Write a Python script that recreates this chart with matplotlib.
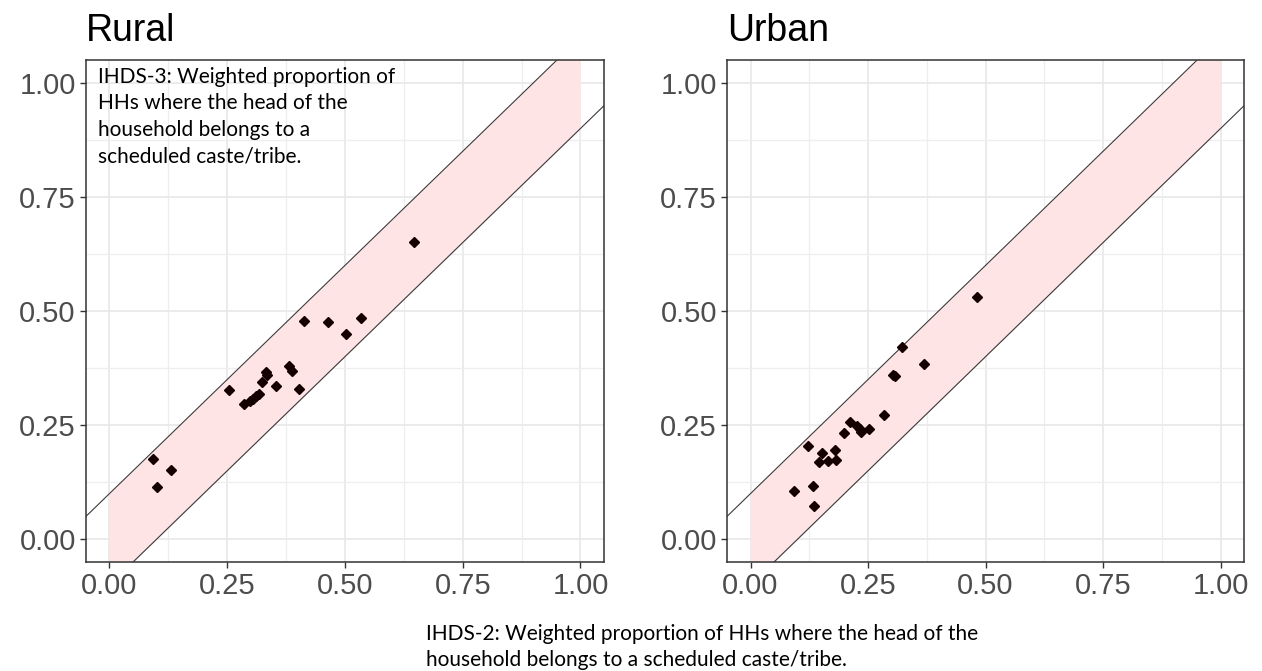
import numpy as np
import matplotlib
matplotlib.use('Agg')
import matplotlib.pyplot as plt

# 数据：IHDS-2 (x) 与 IHDS-3 (y) 的加权比例
rural_x = [0.093, 0.101, 0.131, 0.254, 0.285, 0.298, 0.304, 0.311, 0.318, 0.323, 0.332,
           0.335, 0.354, 0.381, 0.388, 0.403, 0.413, 0.465, 0.503, 0.533, 0.646]
rural_y = [0.175, 0.114, 0.151, 0.327, 0.297, 0.303, 0.308, 0.314, 0.319, 0.345, 0.367,
           0.359, 0.336, 0.379, 0.368, 0.330, 0.479, 0.476, 0.449, 0.485, 0.651]
urban_x = [0.093, 0.132, 0.136, 0.123, 0.145, 0.153, 0.164, 0.179, 0.182, 0.199, 0.211,
           0.227, 0.232, 0.235, 0.252, 0.284, 0.303, 0.308, 0.322, 0.369, 0.481]
urban_y = [0.105, 0.117, 0.072, 0.205, 0.169, 0.190, 0.172, 0.196, 0.174, 0.233, 0.257,
           0.249, 0.241, 0.236, 0.241, 0.272, 0.360, 0.357, 0.421, 0.385, 0.531]
band = 0.1
ticks = [0.0, 0.25, 0.5, 0.75, 1.0]
tick_labels = ['0.00', '0.25', '0.50', '0.75', '1.00']
panels = ['Rural', 'Urban']

fig = plt.figure(figsize=(12.62, 6.71), dpi=100)
positions = [[0.0681, 0.1624, 0.4105, 0.7481], [0.5761, 0.1624, 0.4097, 0.7481]]
data = [(rural_x, rural_y), (urban_x, urban_y)]

for pos, (xs, ys), name in zip(positions, data, panels):
    ax = fig.add_axes(pos)
    # 阴影带 y = x ± 0.1
    xb = np.array([0.0, 1.0])
    ax.fill_between(xb, xb - band, xb + band, color='#ffe4e6', lw=0, zorder=1)
    xl = np.array([-0.1, 1.1])
    ax.plot(xl, xl + band, color='#3a3a3a', lw=0.8, zorder=2)
    ax.plot(xl, xl - band, color='#3a3a3a', lw=0.8, zorder=2)
    ax.plot(xs, ys, linestyle='none', marker='D', markersize=5.5,
            color='#150000', zorder=3)

    ax.set_xlim(-0.05, 1.05)
    ax.set_ylim(-0.05, 1.05)
    ax.set_xticks(ticks)
    ax.set_yticks(ticks)
    ax.set_xticklabels(tick_labels, family='Liberation Sans', size=21, color='#4d4d4d')
    ax.set_yticklabels(tick_labels, family='Liberation Sans', size=21, color='#4d4d4d')
    ax.set_xticks([0.125, 0.375, 0.625, 0.875], minor=True)
    ax.set_yticks([0.125, 0.375, 0.625, 0.875], minor=True)
    ax.tick_params(which='major', length=4.3, width=1, color='#333333', pad=3)
    ax.tick_params(which='minor', length=0)
    ax.grid(which='major', color='#e8e8e8', lw=1.2, zorder=0)
    ax.grid(which='minor', color='#eeeeee', lw=0.9, zorder=0)
    ax.set_axisbelow(True)
    for s in ax.spines.values():
        s.set_color('#333333')
        s.set_linewidth(1.1)
    # 标题
    fig.text(pos[0], 1 - 41 / 671, name, family='Liberation Sans', size=27,
             color='black', va='baseline', ha='left')

fig.text(98 / 1262, 1 - 67 / 671,
         'IHDS-3: Weighted proportion of\nHHs where the head of the\nhousehold belongs to a\nscheduled caste/tribe.',
         family='Lato', size=15, va='top', ha='left', linespacing=1.4)
fig.text(426 / 1262, 1 - 624 / 671,
         'IHDS-2: Weighted proportion of HHs where the head of the\nhousehold belongs to a scheduled caste/tribe.',
         family='Lato', size=15, va='top', ha='left', linespacing=1.35)

fig.savefig('out.png', dpi=100)
